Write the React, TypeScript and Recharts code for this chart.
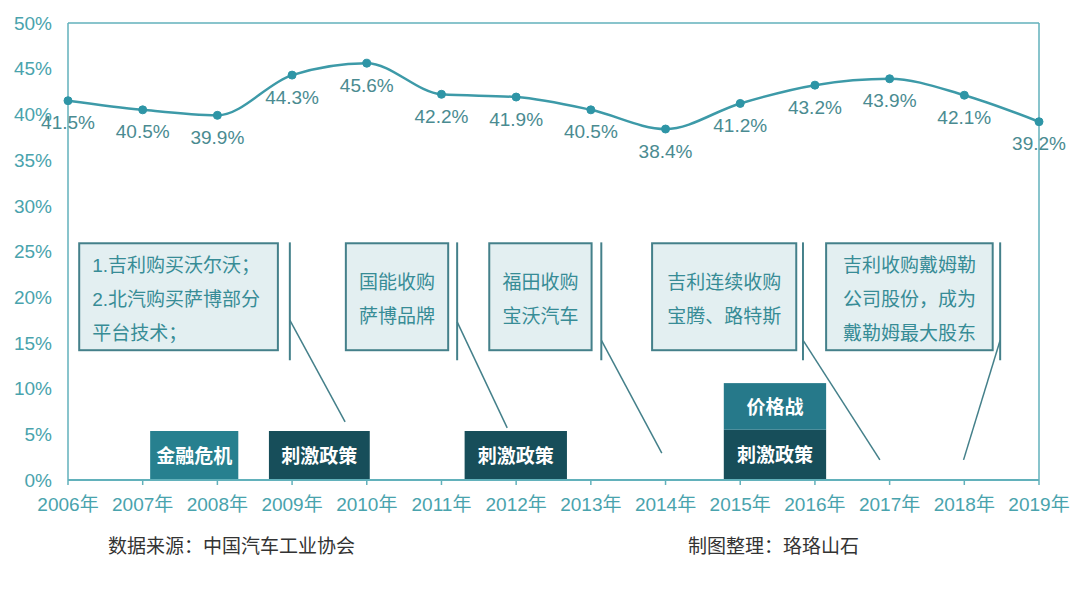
import { LineChart, Line, XAxis, YAxis, ReferenceArea, ReferenceLine, LabelList } from 'recharts';

const years = ['2006', '2007', '2008', '2009', '2010', '2011', '2012', '2013', '2014', '2015', '2016', '2017', '2018', '2019'];
const shares = [41.5, 40.5, 39.9, 44.3, 45.6, 42.2, 41.9, 40.5, 38.4, 41.2, 43.2, 43.9, 42.1, 39.2];
const yTicks = [0, 5, 10, 15, 20, 25, 30, 35, 40, 45, 50];

const noteTexts = [
  ['1.吉利购买沃尔沃；', '2.北汽购买萨博部分', '平台技术；'],
  ['国能收购', '萨博品牌'],
  ['福田收购', '宝沃汽车'],
  ['吉利连续收购', '宝腾、路特斯'],
  ['吉利收购戴姆勒', '公司股份，成为', '戴勒姆最大股东'],
];
const tagTexts = ['金融危机', '刺激政策', '刺激政策', '刺激政策', '价格战'];

// placement of the annotations, in axis units (year index, percent)
const noteSpans = [
  [0.15, 2.81],
  [3.72, 5.09],
  [5.64, 7.01],
  [7.82, 9.75],
  [10.15, 12.38],
];
const leaderX = [2.97, 5.21, 7.14, 9.84, 12.48];
const leaderStartY = [17.5, 17.3, 15.3, 15.3, 15.3];
const leaderEnds = [
  [3.71, 6.35],
  [5.88, 5.7],
  [7.95, 2.95],
  [10.87, 2.2],
  [11.99, 2.2],
];
const tagSpans = [
  [1.1, 2.28, 0, 5.36],
  [2.69, 4.04, 0, 5.36],
  [5.31, 6.68, 0, 5.36],
  [8.78, 10.15, 0, 5.5],
  [8.78, 10.15, 5.5, 10.6],
];
const tagFills = ['#27808f', '#174e5a', '#174e5a', '#174e5a', '#26798a'];

const data = years.map((y, i) => ({ i, year: y, share: shares[i] }));

const FONT = '"Liberation Sans", Arial, "Noto Sans CJK SC", sans-serif';
const FRAME = '#62b1bb';
const TEAL_TEXT = '#49a3ad';
const NOTE_LINE = '#44808a';

function noteShape(lines: string[], leftAlign: boolean) {
  return (p: any) => {
    const cy = p.y + p.height / 2 + 3;
    const gap = 34;
    const first = cy - ((lines.length - 1) * gap) / 2;
    return (
      <g>
        <rect x={p.x} y={p.y} width={p.width} height={p.height} fill="#e3eff1" stroke={NOTE_LINE} strokeWidth={2} />
        {lines.map((t, k) => (
          <text
            key={k}
            x={leftAlign ? p.x + 13 : p.x + p.width / 2}
            y={first + k * gap}
            textAnchor={leftAlign ? 'start' : 'middle'}
            dominantBaseline="central"
            fill="#378c96"
            fontSize={19}
            fontFamily={FONT}
          >
            {t}
          </text>
        ))}
      </g>
    );
  };
}

function tagShape(label: string, fill: string) {
  return (p: any) => (
    <g>
      <rect x={p.x} y={p.y} width={p.width} height={p.height} fill={fill} />
      <text
        x={p.x + p.width / 2}
        y={p.y + p.height / 2 + 1}
        textAnchor="middle"
        dominantBaseline="central"
        fill="#ffffff"
        fontWeight="bold"
        fontSize={19}
        fontFamily={FONT}
      >
        {label}
      </text>
    </g>
  );
}

export default function App() {
  return (
    <div style={{ position: 'relative', width: 1080, height: 594, background: '#fff', fontFamily: FONT }}>
      <style>{'body{margin:0}'}</style>
      <LineChart width={1080} height={594} data={data} margin={{ top: 23, right: 41, bottom: 74, left: 8 }}>
        <XAxis
          dataKey="i"
          type="number"
          domain={[0, 13]}
          ticks={years.map((_, i) => i)}
          tickFormatter={(v: number) => `${years[v]}年`}
          interval={0}
          height={40}
          axisLine={{ stroke: FRAME, strokeWidth: 2 }}
          tickLine={{ stroke: FRAME, strokeWidth: 1.5 }}
          tickSize={5}
          tickMargin={13}
          tick={{ fill: TEAL_TEXT, fontSize: 19, fontFamily: FONT }}
        />
        <YAxis
          domain={[0, 50]}
          ticks={yTicks}
          interval={0}
          width={60}
          tickFormatter={(v: number) => `${v}%`}
          axisLine={{ stroke: FRAME, strokeWidth: 1.5 }}
          tickLine={false}
          tickSize={0}
          tickMargin={16}
          tick={{ fill: TEAL_TEXT, fontSize: 19, fontFamily: FONT }}
        />
        <ReferenceLine y={50} stroke={FRAME} strokeWidth={1.5} />
        <ReferenceLine x={13} stroke={FRAME} strokeWidth={1.5} />

        {noteSpans.map(([x1, x2], k) => (
          <ReferenceArea
            key={`note${k}`}
            x1={x1}
            x2={x2}
            y1={14.2}
            y2={25.9}
            shape={noteShape(noteTexts[k], k === 0)}
          />
        ))}
        {leaderX.map((x, k) => (
          <ReferenceLine
            key={`vl${k}`}
            segment={[
              { x, y: 26 },
              { x, y: 13.1 },
            ]}
            stroke={NOTE_LINE}
            strokeWidth={2}
          />
        ))}
        {leaderX.map((x, k) => (
          <ReferenceLine
            key={`dl${k}`}
            segment={[
              { x, y: leaderStartY[k] },
              { x: leaderEnds[k][0], y: leaderEnds[k][1] },
            ]}
            stroke={NOTE_LINE}
            strokeWidth={1.5}
          />
        ))}
        {tagSpans.map(([x1, x2, y1, y2], k) => (
          <ReferenceArea key={`tag${k}`} x1={x1} x2={x2} y1={y1} y2={y2} shape={tagShape(tagTexts[k], tagFills[k])} />
        ))}

        <Line
          type="monotone"
          dataKey="share"
          stroke="#3d9aa8"
          strokeWidth={2.5}
          dot={{ r: 4, fill: '#2e95a6', stroke: '#2e95a6', strokeWidth: 1 }}
          isAnimationActive={false}
        >
          <LabelList
            dataKey="share"
            position="bottom"
            offset={15}
            formatter={(v: any) => `${Number(v).toFixed(1)}%`}
            fill="#4a8b91"
            fontSize={19}
            fontFamily={FONT}
          />
        </Line>
      </LineChart>
      <div style={{ position: 'absolute', left: 108, top: 531, fontSize: 19, color: '#333', fontFamily: FONT }}>
        数据来源：中国汽车工业协会
      </div>
      <div style={{ position: 'absolute', left: 688, top: 531, fontSize: 19, color: '#333', fontFamily: FONT }}>
        制图整理：珞珞山石
      </div>
    </div>
  );
}
